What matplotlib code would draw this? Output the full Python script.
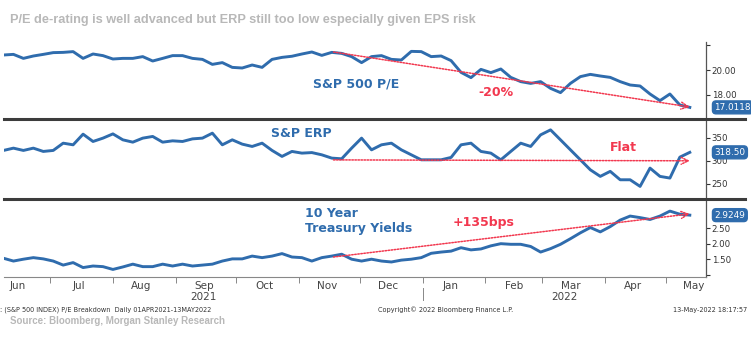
import numpy as np
import pandas as pd
import matplotlib
matplotlib.use('Agg')
import matplotlib.pyplot as plt
import matplotlib.dates as mdates
import matplotlib.transforms as mtransforms
from matplotlib.lines import Line2D


# sampled roughly every 5 days, Jun-2021 .. 13-May-2022
dates = pd.date_range('2021-06-08', '2022-05-13', periods=70)

pe = [21.2, 21.25, 20.93, 21.12, 21.25, 21.39, 21.41, 21.47, 20.93, 21.28,
      21.15, 20.88, 20.93, 20.93, 21.07, 20.72, 20.93, 21.15, 21.15, 20.93,
      20.85, 20.45, 20.59, 20.21, 20.16, 20.4, 20.21, 20.85, 21.01, 21.1,
      21.28, 21.44, 21.17, 21.41, 21.33, 21.07, 20.59, 21.07, 21.15, 20.85,
      20.8, 21.49, 21.47, 21.07, 21.12, 20.75, 19.81, 19.39, 20.05, 19.79,
      20.08, 19.41, 19.07, 18.93, 19.07, 18.53, 18.19, 18.93, 19.47, 19.65,
      19.52, 19.41, 19.07, 18.8, 18.72, 18.08, 17.55, 18.08, 17.2, 17.01]

erp = [322.7, 327.7, 322.7, 327.7, 320.5, 322.7, 338.6, 335.0, 358.3, 342.3,
       349.6, 358.9, 345.9, 340.8, 349.6, 353.3, 340.8, 343.7, 342.3, 348.0,
       349.6, 360.5, 335.0, 345.9, 336.5, 331.4, 338.6, 322.7, 309.6, 320.5,
       316.8, 318.0, 313.1, 305.9, 304.4, 327.7, 349.6, 324.0, 335.0, 338.6,
       324.0, 313.1, 302.2, 302.2, 302.2, 307.4, 335.0, 338.6, 320.5, 316.8,
       302.2, 320.5, 338.6, 331.4, 356.8, 367.7, 345.9, 324.0, 302.2, 280.3,
       265.9, 276.9, 258.5, 258.5, 244.0, 284.0, 265.9, 262.2, 308.0, 318.5]

ust10 = [1.53, 1.44, 1.5, 1.55, 1.51, 1.44, 1.31, 1.39, 1.23, 1.28,
         1.26, 1.17, 1.25, 1.34, 1.26, 1.26, 1.34, 1.28, 1.34, 1.28,
         1.31, 1.34, 1.44, 1.51, 1.51, 1.6, 1.55, 1.6, 1.68, 1.57,
         1.55, 1.44, 1.55, 1.6, 1.66, 1.5, 1.44, 1.5, 1.44, 1.41,
         1.47, 1.5, 1.55, 1.69, 1.73, 1.76, 1.87, 1.80, 1.83, 1.93,
         2.0, 1.98, 1.98, 1.91, 1.73, 1.84, 1.98, 2.16, 2.35, 2.52,
         2.38, 2.55, 2.76, 2.89, 2.84, 2.78, 2.89, 3.05, 2.95, 2.92]

last_labels = ['17.0118', '318.50', '2.9249']
series_names = ['S&P 500 P/E', 'S&P ERP', '10 Year\nTreasury Yields']
trend_text = ['-20%', 'Flat', '+135bps']

# trend arrows (start/end values, mid-Nov-21 to mid-May-22)
trend_start = pd.Timestamp('2021-11-18')
trend_end = pd.Timestamp('2022-05-13')
trend_pe = [21.44, 17.04]
trend_erp = [302, 300]
trend_ust = [1.57, 2.96]

BLUE = '#2f6cad'
RED = '#f2384f'
GRAY = '#b8b8b8'

W, H = 751, 353
fig = plt.figure(figsize=(W / 100, H / 100), dpi=100)


def rect(top, bot):
    return [4 / W, 1 - bot / H, 702 / W, (bot - top) / H]


ax1 = fig.add_axes(rect(42, 119))
ax2 = fig.add_axes(rect(120, 198))
ax3 = fig.add_axes(rect(199, 277))
axes = [ax1, ax2, ax3]

xlim = (pd.Timestamp('2021-06-08 06:00'), pd.Timestamp('2022-05-21'))

ax1.plot(dates, pe, color=BLUE, lw=2.1, solid_joinstyle='round')
ax2.plot(dates, erp, color=BLUE, lw=2.1, solid_joinstyle='round')
ax3.plot(dates, ust10, color=BLUE, lw=2.1, solid_joinstyle='round')

ax1.set_ylim(16.08, 22.24)
ax2.set_ylim(218.6, 389.3)
ax3.set_ylim(0.926, 3.44)
ax1.set_yticks([18, 20, 22])
ax1.set_yticklabels(['18.00', '20.00', ''])
ax2.set_yticks([250, 300, 350])
ax2.set_yticklabels(['250', '300', '350'])
ax3.set_yticks([1.0, 1.5, 2.0, 2.5])
ax3.set_yticklabels(['', '1.50', '2.00', '2.50'])

for ax in axes:
    ax.set_xlim(xlim)
    for s in ['left', 'top', 'bottom']:
        ax.spines[s].set_visible(False)
    ax.spines['right'].set_color('#555555')
    ax.spines['right'].set_linewidth(0.9)
    ax.yaxis.tick_right()
    ax.tick_params(axis='y', direction='out', length=3, width=0.8, pad=1,
                   labelsize=6.2, colors='#333333')
    ax.tick_params(axis='x', which='both', bottom=False, labelbottom=False)

# trend arrows
for ax, vals in zip(axes, [trend_pe, trend_erp, trend_ust]):
    ax.annotate('', xy=(trend_end, vals[1]), xytext=(trend_start, vals[0]),
                arrowprops=dict(arrowstyle='->,head_length=0.5,head_width=0.25',
                                color=RED, lw=1.1, linestyle=(0, (1, 1)),
                                shrinkA=0, shrinkB=0))

# series labels and trend labels
lab = dict(color=BLUE, fontsize=9, fontweight='bold', family='DejaVu Sans')
ax1.text(pd.Timestamp('2021-11-08'), 18.9, series_names[0], ha='left', va='center', **lab)
ax2.text(pd.Timestamp('2021-10-18'), 359, series_names[1], ha='left', va='center', **lab)
ax3.text(pd.Timestamp('2021-11-04'), 2.72, series_names[2], ha='left', va='center',
         linespacing=1.2, **lab)

red = dict(color=RED, fontsize=9, fontweight='bold', family='DejaVu Sans',
           ha='center', va='center')
ax1.text(pd.Timestamp('2022-02-06'), 18.24, trend_text[0], **red)
ax2.text(pd.Timestamp('2022-04-10'), 330, trend_text[1], **red)
ax3.text(pd.Timestamp('2022-01-31'), 2.67, trend_text[2], **red)

# last value tags
for ax, vals, txt in zip(axes, [pe, erp, ust10], last_labels):
    tr = mtransforms.blended_transform_factory(ax.transAxes, ax.transData)
    ax.text(1.012, vals[-1], txt, transform=tr, ha='left', va='center',
            fontsize=6.4, color='white',
            bbox=dict(boxstyle='round,pad=0.22,rounding_size=0.4',
                      fc=BLUE, ec=BLUE))

# x axis on the bottom panel
ax3.spines['bottom'].set_visible(True)
ax3.spines['bottom'].set_color('#888888')
ax3.spines['bottom'].set_linewidth(0.8)
ax3.xaxis.set_major_locator(mdates.MonthLocator())
ax3.xaxis.set_minor_locator(mdates.MonthLocator(bymonthday=15))
ax3.xaxis.set_major_formatter(plt.NullFormatter())
ax3.xaxis.set_minor_formatter(mdates.DateFormatter('%b'))
ax3.tick_params(axis='x', which='major', bottom=True, length=4, width=0.7,
                color='#888888')
ax3.tick_params(axis='x', which='minor', bottom=False, labelbottom=True,
                labelsize=7.5, colors='#444444', pad=1)

tr3 = mtransforms.blended_transform_factory(ax3.transData, ax3.transAxes)
ax3.text(pd.Timestamp('2021-09-15'), -0.26, '2021', transform=tr3, ha='center',
         va='center', fontsize=7.5, color='#444444')
ax3.text(pd.Timestamp('2022-03-12'), -0.26, '2022', transform=tr3, ha='center',
         va='center', fontsize=7.5, color='#444444')
ax3.plot([pd.Timestamp('2022-01-01')] * 2, [-0.14, -0.30], transform=tr3,
         color='#888888', lw=0.7, clip_on=False)

# panel separators
for ypx in [119.5, 198.5]:
    fig.add_artist(Line2D([4 / W, 745 / W], [1 - ypx / H] * 2, color='#3c3c3c',
                          lw=2.2, transform=fig.transFigure))

# titles and footers
fig.text(10 / W, 1 - 20 / H, 'P/E de-rating is well advanced but ERP still too low '
         'especially given EPS risk', color=GRAY, fontsize=9.2, fontweight='bold',
         family='Liberation Sans', ha='left', va='center')
fig.text(0, 1 - 310 / H, ': (S&P 500 INDEX) P/E Breakdown  Daily 01APR2021-13MAY2022',
         fontsize=4.7, color='#333333', ha='left', va='center')
fig.text(378 / W, 1 - 310 / H, 'Copyright\u00a9 2022 Bloomberg Finance L.P.',
         fontsize=4.7, color='#333333', ha='left', va='center')
fig.text(747 / W, 1 - 310 / H, '13-May-2022 18:17:57',
         fontsize=4.7, color='#333333', ha='right', va='center')
fig.text(10 / W, 1 - 321 / H, 'Source: Bloomberg, Morgan Stanley Research',
         color=GRAY, fontsize=7.0, fontweight='bold', family='Liberation Sans',
         ha='left', va='center')

fig.savefig('out.png', dpi=100)
